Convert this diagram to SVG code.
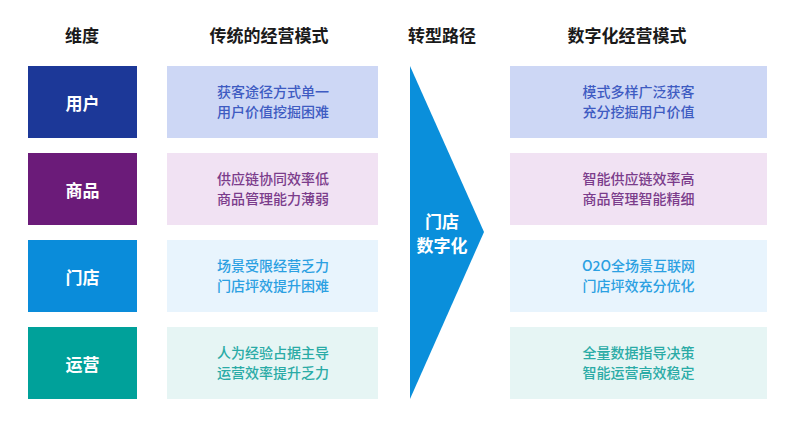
<svg xmlns="http://www.w3.org/2000/svg" width="800" height="437" viewBox="0 0 800 437">
<style>
text{font-family:"Noto Sans CJK SC","Noto Sans",sans-serif;text-anchor:middle}
.h{font-size:17px;font-weight:bold;fill:#1a1a1a}
.lab{font-size:17px;font-weight:bold;fill:#ffffff}
.t{font-size:14px;font-weight:500}
</style>
<rect width="800" height="437" fill="#ffffff"/>
<g id="headers">
<text class="h" x="82" y="42">维度</text>
<text class="h" x="269" y="42">传统的经营模式</text>
<text class="h" x="442" y="42">转型路径</text>
<text class="h" x="627" y="42">数字化经营模式</text>
</g>
<g id="dim-user"><rect x="28" y="66" width="109" height="72" fill="#1c3898"/><text class="lab" x="82.5" y="110">用户</text></g>
<g id="dim-goods"><rect x="28" y="153" width="109" height="72" fill="#6b1b79"/><text class="lab" x="82.5" y="197">商品</text></g>
<g id="dim-store"><rect x="28" y="240" width="109" height="72" fill="#0a8cda"/><text class="lab" x="82.5" y="284">门店</text></g>
<g id="dim-ops"><rect x="28" y="327" width="109" height="72" fill="#00a19a"/><text class="lab" x="82.5" y="371">运营</text></g>

<g id="trad-user"><rect x="167" y="66" width="211" height="72" fill="#cdd7f5"/>
<text class="t" x="273" y="97" fill="#3e5bc2">获客途径方式单一</text><text class="t" x="273" y="117" fill="#3e5bc2">用户价值挖掘困难</text></g>
<g id="trad-goods"><rect x="167" y="153" width="211" height="72" fill="#f1e2f3"/>
<text class="t" x="273" y="184" fill="#7b3c8b">供应链协同效率低</text><text class="t" x="273" y="204" fill="#7b3c8b">商品管理能力薄弱</text></g>
<g id="trad-store"><rect x="167" y="240" width="211" height="72" fill="#e8f4fd"/>
<text class="t" x="273" y="271" fill="#2ba0e2">场景受限经营乏力</text><text class="t" x="273" y="291" fill="#2ba0e2">门店坪效提升困难</text></g>
<g id="trad-ops"><rect x="167" y="327" width="211" height="72" fill="#e6f5f4"/>
<text class="t" x="273" y="358" fill="#2aaba6">人为经验占据主导</text><text class="t" x="273" y="378" fill="#2aaba6">运营效率提升乏力</text></g>

<g id="arrow"><polygon points="410,66 484,232 410,399" fill="#0a8fdb"/>
<text class="lab" x="442" y="228">门店</text><text class="lab" x="442" y="252">数字化</text></g>

<g id="digi-user"><rect x="510" y="66" width="257" height="72" fill="#cdd7f5"/>
<text class="t" x="638.5" y="97" fill="#3e5bc2">模式多样广泛获客</text><text class="t" x="638.5" y="117" fill="#3e5bc2">充分挖掘用户价值</text></g>
<g id="digi-goods"><rect x="510" y="153" width="257" height="72" fill="#f1e2f3"/>
<text class="t" x="638.5" y="184" fill="#7b3c8b">智能供应链效率高</text><text class="t" x="638.5" y="204" fill="#7b3c8b">商品管理智能精细</text></g>
<g id="digi-store"><rect x="510" y="240" width="257" height="72" fill="#e8f4fd"/>
<text class="t" x="638.5" y="271" fill="#2ba0e2">O2O全场景互联网</text><text class="t" x="638.5" y="291" fill="#2ba0e2">门店坪效充分优化</text></g>
<g id="digi-ops"><rect x="510" y="327" width="257" height="72" fill="#e6f5f4"/>
<text class="t" x="638.5" y="358" fill="#2aaba6">全量数据指导决策</text><text class="t" x="638.5" y="378" fill="#2aaba6">智能运营高效稳定</text></g>
<g id="connectors"></g>
</svg>
